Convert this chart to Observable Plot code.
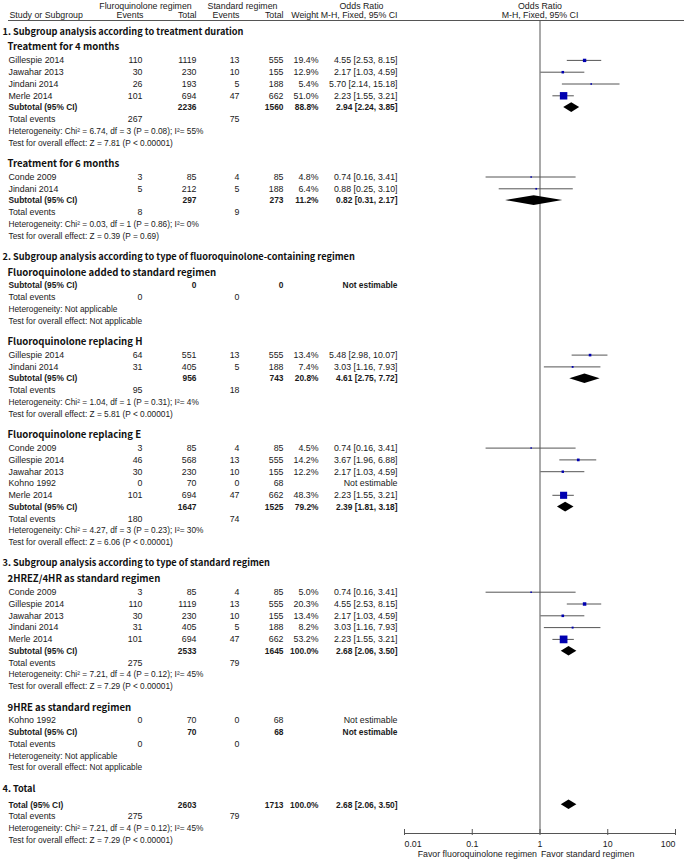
<!DOCTYPE html>
<html><head><meta charset="utf-8">
<script src="https://cdn.jsdelivr.net/npm/d3@7"></script>
<script src="https://cdn.jsdelivr.net/npm/@observablehq/plot@0.6"></script>
<style>
body{margin:0;background:#fff;}
#chart svg{display:block;}
g[aria-label="section-title"] text {word-spacing:1.5px;}
g[aria-label="group-title"] text {word-spacing:1.5px;}
</style></head>
<body><div id="chart"></div>
<script>
// ---------- data ----------
const sectionTitles = [
  "1. Subgroup analysis according to treatment duration",
  "2. Subgroup analysis according to type of fluoroquinolone-containing regimen",
  "3. Subgroup analysis according to type of standard regimen",
  "4. Total"
];
const groupTitles = [
  "Treatment for 4 months", "Treatment for 6 months",
  "Fluoroquinolone added to standard regimen", "Fluoroquinolone replacing H", "Fluoroquinolone replacing E",
  "2HREZ/4HR as standard regimen", "9HRE as standard regimen",
  null
];
const groupSection = [0, 0, 1, 1, 1, 2, 2, 3];

const studyGroup = [0,0,0,0, 1,1, 3,3, 4,4,4,4,4, 5,5,5,5,5, 6];
const studyName = ["Gillespie 2014","Jawahar 2013","Jindani 2014","Merle 2014",
  "Conde 2009","Jindani 2014",
  "Gillespie 2014","Jindani 2014",
  "Conde 2009","Gillespie 2014","Jawahar 2013","Kohno 1992","Merle 2014",
  "Conde 2009","Gillespie 2014","Jawahar 2013","Jindani 2014","Merle 2014",
  "Kohno 1992"];
const fqEvents = [110,30,26,101, 3,5, 64,31, 3,46,30,0,101, 3,110,30,31,101, 0];
const fqTotal  = [1119,230,193,694, 85,212, 551,405, 85,568,230,70,694, 85,1119,230,405,694, 70];
const stdEvents = [13,10,5,47, 4,5, 13,5, 4,13,10,0,47, 4,13,10,5,47, 0];
const stdTotal  = [555,155,188,662, 85,188, 555,188, 85,555,155,68,662, 85,555,155,188,662, 68];
const weight = [19.4,12.9,5.4,51.0, 4.8,6.4, 13.4,7.4, 4.5,14.2,12.2,null,48.3, 5.0,20.3,13.4,8.2,53.2, null];
const orEst  = [4.55,2.17,5.70,2.23, 0.74,0.88, 5.48,3.03, 0.74,3.67,2.17,null,2.23, 0.74,4.55,2.17,3.03,2.23, null];
const orLow  = [2.53,1.03,2.14,1.55, 0.16,0.25, 2.98,1.16, 0.16,1.96,1.03,null,1.55, 0.16,2.53,1.03,1.16,1.55, null];
const orHigh = [8.15,4.59,15.18,3.21, 3.41,3.10, 10.07,7.93, 3.41,6.88,4.59,null,3.21, 3.41,8.15,4.59,7.93,3.21, null];

const subFqTotal  = [2236, 297, 0, 956, 1647, 2533, 70, 2603];
const subStdTotal = [1560, 273, 0, 743, 1525, 1645, 68, 1713];
const subWeight = [88.8, 11.2, null, 20.8, 79.2, 100.0, null, 100.0];
const subEst  = [2.94, 0.82, null, 4.61, 2.39, 2.68, null, 2.68];
const subLow  = [2.24, 0.31, null, 2.75, 1.81, 2.06, null, 2.06];
const subHigh = [3.85, 2.17, null, 7.72, 3.18, 3.50, null, 3.50];
const subFqEvents  = [267, 8, 0, 95, 180, 275, 0, 275];
const subStdEvents = [75, 9, 0, 18, 74, 79, 0, 79];
const heterogeneity = [
  "Chi\u00B2 = 6.74, df = 3 (P = 0.08); I\u00B2= 55%",
  "Chi\u00B2 = 0.03, df = 1 (P = 0.86); I\u00B2= 0%",
  "Not applicable",
  "Chi\u00B2 = 1.04, df = 1 (P = 0.31); I\u00B2= 4%",
  "Chi\u00B2 = 4.27, df = 3 (P = 0.23); I\u00B2= 30%",
  "Chi\u00B2 = 7.21, df = 4 (P = 0.12); I\u00B2= 45%",
  "Not applicable",
  "Chi\u00B2 = 7.21, df = 4 (P = 0.12); I\u00B2= 45%"
];
const overallEffect = [
  "Z = 7.81 (P < 0.00001)", "Z = 0.39 (P = 0.69)", "Not applicable",
  "Z = 5.81 (P < 0.00001)", "Z = 6.06 (P < 0.00001)", "Z = 7.29 (P < 0.00001)",
  "Not applicable", "Z = 7.29 (P < 0.00001)"
];

const xTicks = [0.01, 0.1, 1, 10, 100];
const xTickLabels = ["0.01", "0.1", "1", "10", "100"];
const favorLeft = "Favor fluoroquinolone regimen";
const favorRight = "Favor standard regimen";

// ---------- layout ----------
const W = 684, H = 859;
const TOP = 31.2, STEP = 11.8, GAP = 21, SEC_TO_GRP = 15.7, GRP_TO_ROW = 13, SEC_TO_TOTAL = 16;
const HEAD1 = 5.5, HEAD2 = 15, HEAD_LINE = 20, AXIS_Y = 833, TICK_LABEL_Y = 843.5, FAVOR_Y = 853.5;
const colX = [8, 142, 196, 239, 283, 318, 397];
const FONT = "Liberation Sans, Arial, sans-serif";
const HFONT = "Noto Sans CJK KR, Noto Sans, sans-serif";
const INK = "#1a1a1a";

const rows = [];
let y = TOP - GAP;
sectionTitles.forEach((title, s) => {
  y += GAP;
  rows.push({kind: "section", y, text: title});
  const groups = d3.range(groupSection.length).filter(g => groupSection[g] === s);
  groups.forEach((g, k) => {
    if (groupTitles[g]) {
      y += k === 0 ? SEC_TO_GRP : GAP;
      rows.push({kind: "group", y, text: groupTitles[g]});
      y += GRP_TO_ROW;
    } else {
      y += SEC_TO_TOTAL;
    }
    const studies = d3.range(studyGroup.length).filter(i => studyGroup[i] === g);
    studies.forEach((i, j) => {
      if (j > 0) y += STEP;
      rows.push({kind: "study", y, i});
    });
    if (studies.length) y += STEP;
    rows.push({kind: "subtotal", y, g});
    y += STEP; rows.push({kind: "events", y, g});
    y += STEP; rows.push({kind: "het", y, g});
    y += STEP; rows.push({kind: "test", y, g});
  });
});

const fmtOR = (e, l, h) => e == null ? "Not estimable" : `${e.toFixed(2)} [${l.toFixed(2)}, ${h.toFixed(2)}]`;
const fmtW = w => w == null ? "" : w.toFixed(1) + "%";

// table cells: style 0 = regular, 1 = bold, 2 = small (statistics lines)
const cells = [];
const add = (y, col, text, st = 0) => { if (text !== "" && text != null) cells.push({y, col, text: String(text), st}); };
rows.forEach(r => {
  if (r.kind === "study") {
    const i = r.i;
    add(r.y, 0, studyName[i]); add(r.y, 1, fqEvents[i]); add(r.y, 2, fqTotal[i]);
    add(r.y, 3, stdEvents[i]); add(r.y, 4, stdTotal[i]); add(r.y, 5, fmtW(weight[i]));
    add(r.y, 6, fmtOR(orEst[i], orLow[i], orHigh[i]));
  } else if (r.kind === "subtotal") {
    const g = r.g;
    add(r.y, 0, groupTitles[g] ? "Subtotal (95% CI)" : "Total (95% CI)", 1);
    add(r.y, 2, subFqTotal[g], 1); add(r.y, 4, subStdTotal[g], 1);
    add(r.y, 5, fmtW(subWeight[g]), 1);
    add(r.y, 6, fmtOR(subEst[g], subLow[g], subHigh[g]), 1);
  } else if (r.kind === "events") {
    add(r.y, 0, "Total events"); add(r.y, 1, subFqEvents[r.g]); add(r.y, 3, subStdEvents[r.g]);
  } else if (r.kind === "het") {
    add(r.y, 0, "Heterogeneity: " + heterogeneity[r.g], 2);
  } else if (r.kind === "test") {
    add(r.y, 0, "Test for overall effect: " + overallEffect[r.g], 2);
  }
});

const styleSize = [8.8, 8.4, 8.3];
const cellMarks = [];
colX.forEach((cx, c) => {
  [0, 1, 2].forEach(st => {
    const data = cells.filter(d => d.col === c && d.st === st);
    if (!data.length) return;
    cellMarks.push(Plot.text(data, {
      y: "y", text: "text", frameAnchor: "left", dx: cx,
      textAnchor: c === 0 ? "start" : "end",
      fontFamily: FONT, fontSize: styleSize[st], fontWeight: st === 1 ? "bold" : "normal", fill: INK
    }));
  });
});

// forest data
const studyPts = rows.filter(r => r.kind === "study" && orEst[r.i] != null)
  .map(r => ({y: r.y, est: orEst[r.i], lo: orLow[r.i], hi: orHigh[r.i], w: weight[r.i]}));
const DH = 4.8;
const diamondPts = rows.filter(r => r.kind === "subtotal" && subEst[r.g] != null)
  .flatMap(r => [
    {id: r.g, x: subLow[r.g], y1: r.y, y2: r.y},
    {id: r.g, x: subEst[r.g], y1: r.y - DH, y2: r.y + DH},
    {id: r.g, x: subHigh[r.g], y1: r.y, y2: r.y}
  ]);

const head1 = [
  {t: "Fluroquinolone regimen", x: 145}, {t: "Standard regimen", x: 242}, {t: "Odds Ratio", x: 361}
];
const head2 = [
  {t: "Events", x: 143}, {t: "Total", x: 196}, {t: "Events", x: 239}, {t: "Total", x: 283},
  {t: "Weight", x: 318}, {t: "M-H, Fixed, 95% CI", x: 397}
];

const marks = [
  Plot.ruleY([HEAD_LINE], {stroke: "#555", strokeWidth: 1, insetLeft: 8}),
  ...head1.map(h => Plot.text([h.t], {y: HEAD1, text: d => d, frameAnchor: "left", dx: h.x, textAnchor: "middle", fontFamily: FONT, fontSize: 8.8, fill: INK})),
  Plot.text(["Study or Subgroup"], {y: HEAD2, text: d => d, frameAnchor: "left", dx: 9, textAnchor: "start", fontFamily: FONT, fontSize: 8.8, fill: INK}),
  ...head2.map(h => Plot.text([h.t], {y: HEAD2, text: d => d, frameAnchor: "left", dx: h.x, textAnchor: "end", fontFamily: FONT, fontSize: 8.8, fill: INK})),
  Plot.text(["Odds Ratio"], {x: 1, y: HEAD1, text: d => d, textAnchor: "middle", fontFamily: FONT, fontSize: 8.8, fill: INK}),
  Plot.text(["M-H, Fixed, 95% CI"], {x: 1, y: HEAD2, text: d => d, textAnchor: "middle", fontFamily: FONT, fontSize: 8.8, fill: INK}),

  Plot.text(rows.filter(r => r.kind === "section"), {y: "y", text: "text", frameAnchor: "left", dx: 2, textAnchor: "start", fontFamily: HFONT, fontWeight: "bold", fontSize: 9.2, fill: "#111", ariaLabel: "section-title"}),
  Plot.text(rows.filter(r => r.kind === "group"), {y: "y", text: "text", frameAnchor: "left", dx: 7, textAnchor: "start", fontFamily: HFONT, fontWeight: "bold", fontSize: 9.6, fill: "#111", ariaLabel: "group-title"}),
  ...cellMarks,

  // forest
  Plot.ruleX([1], {y1: HEAD_LINE, y2: AXIS_Y, stroke: "#555", strokeWidth: 1}),
  Plot.ruleY(studyPts, {y: "y", x1: "lo", x2: "hi", stroke: "#555", strokeWidth: 1}),
  Plot.dot(studyPts, {x: "est", y: "y", r: "w", symbol: "square", fill: "#0000b0", stroke: null}),
  Plot.areaY(diamondPts, {x: "x", y1: "y1", y2: "y2", z: "id", fill: "#000", curve: "linear"}),

  // axis
  Plot.ruleY([AXIS_Y], {x1: xTicks[0], x2: xTicks[xTicks.length - 1], stroke: "#555"}),
  Plot.ruleX(xTicks, {x: d => d, y1: AXIS_Y - 4, y2: AXIS_Y + 2, stroke: "#555"}),
  Plot.text(xTicks.slice(1, -1), {x: d => d, y: TICK_LABEL_Y, text: (d, i) => xTickLabels[i + 1], textAnchor: "middle", fontFamily: FONT, fontSize: 8.8, fill: INK}),
  Plot.text(xTicks.slice(0, 1), {x: d => d, y: TICK_LABEL_Y, text: () => xTickLabels[0], textAnchor: "start", fontFamily: FONT, fontSize: 8.8, fill: INK}),
  Plot.text(xTicks.slice(-1), {x: d => d, y: TICK_LABEL_Y, text: () => xTickLabels[xTickLabels.length - 1], textAnchor: "end", fontFamily: FONT, fontSize: 8.8, fill: INK}),
  Plot.text([favorLeft], {x: 1, y: FAVOR_Y, text: d => d, textAnchor: "end", dx: -3, fontFamily: FONT, fontSize: 8.8, fill: INK}),
  Plot.text([favorRight], {x: 1, y: FAVOR_Y, text: d => d, textAnchor: "start", dx: 1, fontFamily: FONT, fontSize: 8.8, fill: INK})
];

const chart = Plot.plot({
  width: W, height: H, margin: 0,
  x: {type: "log", domain: [0.01, 100], range: [404, 675], axis: null},
  y: {type: "linear", domain: [0, H], range: [0, H], axis: null},
  r: {type: "linear", domain: [0, 51], range: [0.5, 4.2]},
  style: {fontFamily: FONT, fontSize: "9px", background: "#fff", color: "#111"},
  marks
});
document.getElementById("chart").appendChild(chart);
</script></body></html>
